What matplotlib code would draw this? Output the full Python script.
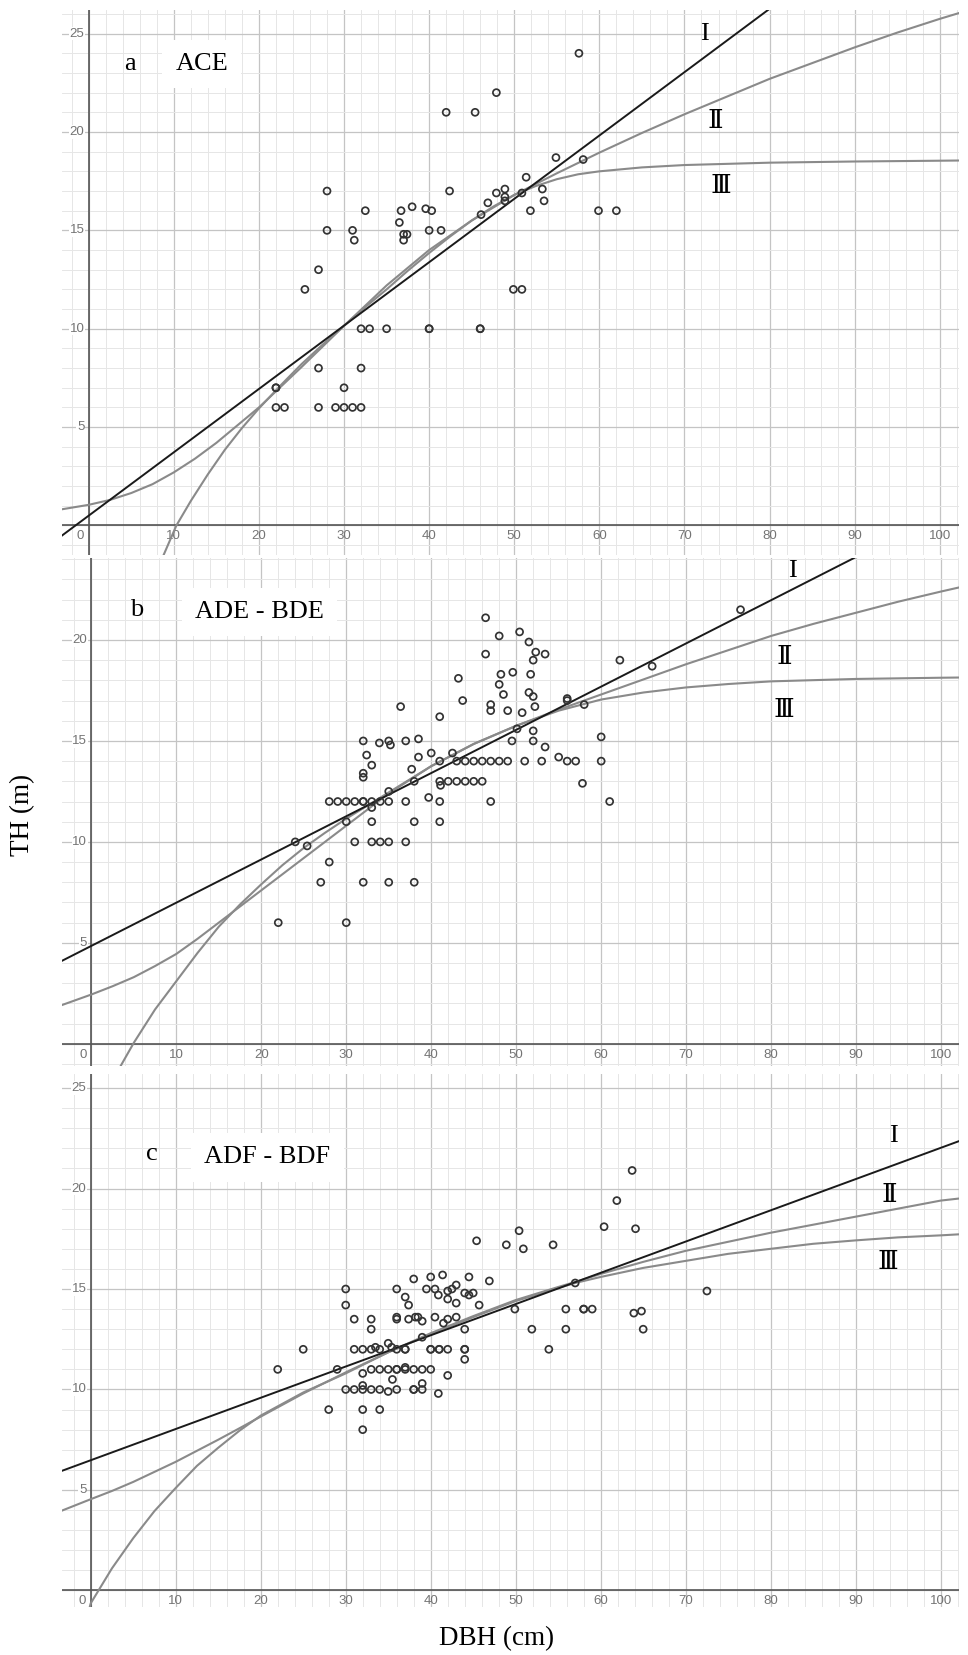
import numpy as np
import matplotlib
matplotlib.use("Agg")
import matplotlib.pyplot as plt

plt.rcParams["font.family"] = ["Liberation Serif", "DejaVu Serif"]

# ---- panel a: ACE ----
A_DBH = [22, 22, 22, 23, 27, 29, 30, 31, 32, 30, 27, 32,
         25.4, 27, 28, 28, 31, 31.2, 32.5,
         32, 33, 35, 40, 40, 46, 46,
         36.5, 36.7, 38, 37, 37.4, 37, 39.6, 40.3, 40, 41.4, 42, 45.4, 42.4,
         46.1, 46.9, 47.9, 47.9, 48.9, 48.9, 48.9, 50.9, 51.4, 51.9, 53.3, 53.5,
         54.9, 57.6, 58.1, 59.9, 62, 49.9, 50.9]
A_TH = [7, 7, 6, 6, 6, 6, 6, 6, 6, 7, 8, 8,
        12, 13, 15, 17, 15, 14.5, 16,
        10, 10, 10, 10, 10, 10, 10,
        15.4, 16, 16.2, 14.8, 14.8, 14.5, 16.1, 16, 15, 15, 21, 21, 17,
        15.8, 16.4, 16.9, 22, 17.1, 16.7, 16.5, 16.9, 17.7, 16, 17.1, 16.5,
        18.7, 24, 18.6, 16, 16, 12, 12]
A_I_X = [-3.2, 80.0]
A_I_Y = [-0.53, 26.26]
A_II_X = [-3.2, 0, 2.5, 5, 7.5, 10, 12.5, 15, 17.5, 20, 25, 30, 35, 40, 45, 50, 55, 60,
          65, 70, 75, 80, 85, 90, 95, 100, 102.3]
A_II_Y = [0.82, 1.05, 1.3, 1.65, 2.1, 2.7, 3.4, 4.2, 5.1, 6.0, 8.05, 10.15, 12.2, 14.0,
          15.5, 16.8, 17.9, 18.95, 19.95, 20.9, 21.8, 22.7, 23.5, 24.3, 25.05, 25.75, 26.05]
A_III_X = [8.8, 10.3, 12, 14, 16, 18, 20, 22.5, 25, 27.5, 30, 32.5, 35, 37.5, 40, 42.5,
           45, 47.5, 50, 52.5, 55, 57.5, 60, 65, 70, 80, 90, 100, 102.3]
A_III_Y = [-1.5, 0.0, 1.25, 2.6, 3.85, 4.95, 5.95, 7.1, 8.2, 9.2, 10.15, 11.1, 12.0,
           12.95, 13.85, 14.7, 15.5, 16.2, 16.8, 17.25, 17.6, 17.85, 18.0, 18.2, 18.32,
           18.44, 18.5, 18.54, 18.55]

# ---- panel b: ADE - BDE ----
B_DBH = [22, 24, 25.4, 27, 28, 28, 29, 30, 31, 32, 32, 33, 34, 35, 37, 41, 47, 61,
         30, 33, 38, 41, 31, 33, 34, 35, 37, 32, 35, 38, 30,
         33, 35, 39.7, 41.1,
         38, 41, 42, 43, 44, 45, 46,
         32, 32, 33, 32.4, 37.7, 40, 42.5, 38.5,
         41, 43, 44, 45, 46, 47, 48, 49, 51, 53, 56, 57, 60,
         32, 33.9, 35, 35.2, 37, 38.5, 49.5, 52, 60,
         53.4, 55, 57.8, 50.1, 52,
         36.4, 41, 43.2, 43.7,
         46.4, 48, 50.4, 51.5, 52.3, 53.4, 52, 46.4,
         48.2, 49.6, 51.7, 48, 48.5, 51.5, 52,
         47, 47, 49, 50.7, 52.2, 56, 56, 58,
         62.2, 66, 76.4]
B_TH = [6, 10, 9.8, 8, 9, 12, 12, 12, 12, 12, 12, 12, 12, 12, 12, 12, 12, 12,
        11, 11, 11, 11, 10, 10, 10, 10, 10, 8, 8, 8, 6,
        11.7, 12.5, 12.2, 12.8,
        13, 13, 13, 13, 13, 13, 13,
        13.2, 13.4, 13.8, 14.3, 13.6, 14.4, 14.4, 14.2,
        14, 14, 14, 14, 14, 14, 14, 14, 14, 14, 14, 14, 14,
        15, 14.9, 15, 14.8, 15, 15.1, 15, 15, 15.2,
        14.7, 14.2, 12.9, 15.6, 15.5,
        16.7, 16.2, 18.1, 17.0,
        21.1, 20.2, 20.4, 19.9, 19.4, 19.3, 19.0, 19.3,
        18.3, 18.4, 18.3, 17.8, 17.3, 17.4, 17.2,
        16.8, 16.5, 16.5, 16.4, 16.7, 17.1, 17.0, 16.8,
        19.0, 18.7, 21.5]
B_I_X = [-3.45, 89.9]
B_I_Y = [4.11, 24.09]
B_II_X = [-3.45, 0, 2.5, 5, 7.5, 10, 12.5, 15, 17.5, 20, 25, 30, 35, 40, 45, 50, 55,
          60, 65, 70, 75, 80, 85, 90, 95, 100, 102.1]
B_II_Y = [1.92, 2.44, 2.85, 3.3, 3.85, 4.45, 5.2, 6.0, 6.8, 7.6, 9.2, 10.8, 12.4, 13.75,
          14.85, 15.75, 16.55, 17.3, 18.05, 18.8, 19.5, 20.2, 20.8, 21.35, 21.9, 22.4, 22.6]
B_III_X = [3.45, 5, 7.5, 10, 12.5, 15, 17.5, 20, 22.5, 25, 27.5, 30, 35, 40, 45, 50, 55,
           60, 65, 70, 75, 80, 90, 100, 102.1]
B_III_Y = [-1.1, 0.05, 1.7, 3.1, 4.5, 5.8, 6.9, 7.9, 8.85, 9.7, 10.45, 11.15, 12.45,
           13.75, 14.85, 15.75, 16.5, 17.05, 17.4, 17.65, 17.82, 17.95, 18.07, 18.13, 18.14]

# ---- panel c: ADF - BDF ----
C_DBH = [22, 25, 28, 29,
         30, 30, 30, 31, 31, 31,
         32, 32, 32, 32, 32, 32,
         33, 33, 33, 33, 33, 33.5,
         34, 34, 34, 34,
         35, 35.4, 35, 35.5, 35,
         36, 36, 36, 36, 36, 36, 36,
         37, 37.4, 37.4, 37, 37, 37, 37,
         38, 38.2, 38.5, 38, 38, 38,
         39, 39, 39, 39, 39, 39.5,
         40, 40.5, 40.5, 40, 40, 40,
         40.9, 41.4, 41.5, 41, 41, 40.9,
         42, 42.5, 42, 42, 42, 42,
         43, 43, 43,
         44, 44, 44, 44, 44, 44.5, 44.5, 45, 45.7, 45.4, 46.9,
         48.9, 50.4, 50.9, 54.4, 57, 49.9, 55.9, 58, 58, 59, 51.9, 55.9, 53.9,
         60.4, 61.9, 63.7, 64.1, 63.9, 64.8, 65, 72.5]
C_TH = [11, 12, 9, 11,
        15, 14.2, 10, 13.5, 12, 10,
        12, 10.8, 10.2, 10, 9, 8,
        13.5, 13, 12, 11, 10, 12.1,
        12, 11, 10, 9,
        12.3, 12.1, 11, 10.5, 9.9,
        15, 13.6, 13.5, 12, 11, 11, 10,
        14.6, 14.2, 13.5, 12, 12, 11.1, 11,
        15.5, 13.6, 13.6, 11, 10, 10,
        13.4, 12.6, 11, 10.3, 10, 15,
        15.6, 15, 13.6, 12, 12, 11,
        14.7, 15.7, 13.3, 12, 12, 9.8,
        14.9, 15, 14.5, 13.5, 12, 10.7,
        15.2, 14.3, 13.6,
        14.8, 13, 12, 12, 11.5, 15.6, 14.7, 14.8, 14.2, 17.4, 15.4,
        17.2, 17.9, 17, 17.2, 15.3, 14, 14, 14, 14, 14, 13, 13, 12,
        18.1, 19.4, 20.9, 18, 13.8, 13.9, 13, 14.9]
C_I_X = [-3.4, 102.1]
C_I_Y = [5.95, 22.35]
C_II_X = [-3.4, 0, 2.5, 5, 7.5, 10, 12.5, 15, 17.5, 20, 25, 30, 35, 40, 45, 50, 55, 57,
          60, 65, 70, 75, 80, 85, 90, 95, 100, 102.1]
C_II_Y = [3.97, 4.54, 4.95, 5.4, 5.9, 6.4, 6.95, 7.5, 8.07, 8.65, 9.8, 10.85, 11.85,
          12.8, 13.65, 14.45, 15.1, 15.35, 15.75, 16.35, 16.9, 17.35, 17.8, 18.2, 18.6,
          19.0, 19.4, 19.5]
C_III_X = [-0.1, 0, 2.5, 5, 7.5, 10, 12.5, 15, 17.5, 20, 25, 30, 35, 40, 45, 50, 55, 57,
           60, 65, 70, 75, 80, 85, 90, 95, 100, 102.1]
C_III_Y = [-0.8, -0.64, 1.1, 2.6, 3.95, 5.1, 6.2, 7.1, 7.95, 8.7, 9.85, 10.8, 11.85,
           12.75, 13.6, 14.4, 15.05, 15.3, 15.6, 16.05, 16.4, 16.75, 17.0, 17.25, 17.42,
           17.57, 17.67, 17.72]

X_TICKS = [10, 20, 30, 40, 50, 60, 70, 80, 90, 100]
Y_TICKS = [5, 10, 15, 20, 25]

W, H = 968, 1655
fig = plt.figure(figsize=(W / 100, H / 100), dpi=100)


def panel(top_px, bot_px, xlim, ylim):
    ax = fig.add_axes([62 / W, 1 - bot_px / H, 896.5 / W, (bot_px - top_px) / H])
    for s in ax.spines.values():
        s.set_visible(False)
    ax.set_xticks(np.arange(0, 101, 10))
    ax.set_xticks(np.arange(-2, 103, 2), minor=True)
    ax.set_yticks(np.arange(0, 26, 5))
    ax.set_yticks(np.arange(-1, 27, 1), minor=True)
    # limits after the ticks, otherwise set_ticks widens them
    ax.set_xlim(*xlim)
    ax.set_ylim(*ylim)
    ax.grid(which="major", color="#c4c4c4", lw=0.9)
    ax.grid(which="minor", color="#e6e6e6", lw=0.7)
    ax.set_axisbelow(True)
    ax.tick_params(which="both", length=0, labelbottom=False, labelleft=False)
    ax.axhline(0, color="#555555", lw=1.2, zorder=1)
    ax.axvline(0, color="#555555", lw=1.2, zorder=1)
    tk = dict(color="#747474", fontsize=9.5, family="Liberation Sans")
    for t in X_TICKS:
        ax.text(t, -0.55, str(t), ha="center", va="center", **tk)
    ax.text(-1.0, -0.55, "0", ha="center", va="center", **tk)
    for t in Y_TICKS:
        if t < ylim[1] - 0.3:
            ax.text(-0.5, t, str(t), ha="right", va="center",
                    bbox=dict(facecolor="white", edgecolor="none", pad=0.5), **tk)
    return ax


def fill(ax, dbh, th, lines, tag, name, tag_xy, name_xy, roman_xy):
    (ix, iy), (iix, iiy), (iiix, iiiy) = lines
    ax.plot(iix, iiy, color="#8a8a8a", lw=1.5, zorder=3)
    ax.plot(iiix, iiiy, color="#8a8a8a", lw=1.5, zorder=3)
    ax.plot(ix, iy, color="#1a1a1a", lw=1.4, zorder=4)
    ax.scatter(dbh, th, s=25, facecolors="none", edgecolors="#333333",
               linewidths=1.25, zorder=5)
    ax.text(*tag_xy, tag, fontsize=19, ha="center", va="center", zorder=6)
    ax.text(*name_xy, name, fontsize=19, ha="center", va="center", zorder=6,
            bbox=dict(boxstyle="square,pad=0.5", facecolor="white", edgecolor="none"))
    for lab, xy in zip(["I", "Ⅱ", "Ⅲ"], roman_xy):
        ax.text(*xy, lab, fontsize=19, ha="center", va="center", zorder=6)


ax_a = panel(10, 555, (-3.14, 102.2), (-1.5, 26.2))
fill(ax_a, A_DBH, A_TH,
     [(A_I_X, A_I_Y), (A_II_X, A_II_Y), (A_III_X, A_III_Y)],
     "a", "ACE", (4.85, 23.45), (13.3, 23.45),
     [(72.3, 25.0), (73.6, 20.5), (74.3, 17.2)])

ax_b = panel(558, 1066, (-3.45, 102.05), (-1.1, 24.06))
fill(ax_b, B_DBH, B_TH,
     [(B_I_X, B_I_Y), (B_II_X, B_II_Y), (B_III_X, B_III_Y)],
     "b", "ADE - BDE", (5.3, 21.5), (19.8, 21.4),
     [(82.5, 23.4), (81.6, 19.1), (81.5, 16.5)])

ax_c = panel(1074, 1606.5, (-3.38, 102.1), (-0.8, 25.7))
fill(ax_c, C_DBH, C_TH,
     [(C_I_X, C_I_Y), (C_II_X, C_II_Y), (C_III_X, C_III_Y)],
     "c", "ADF - BDF", (7.2, 21.7), (20.8, 21.55),
     [(94.5, 22.6), (94.0, 19.65), (93.8, 16.3)])

fig.text(23 / W, 1 - 815 / H, "TH (m)", rotation=90, fontsize=19.5,
         ha="center", va="center")
fig.text(497 / W, 1 - 1639 / H, "DBH (cm)", fontsize=19.5, ha="center", va="center")

fig.savefig("out.png", dpi=100)
